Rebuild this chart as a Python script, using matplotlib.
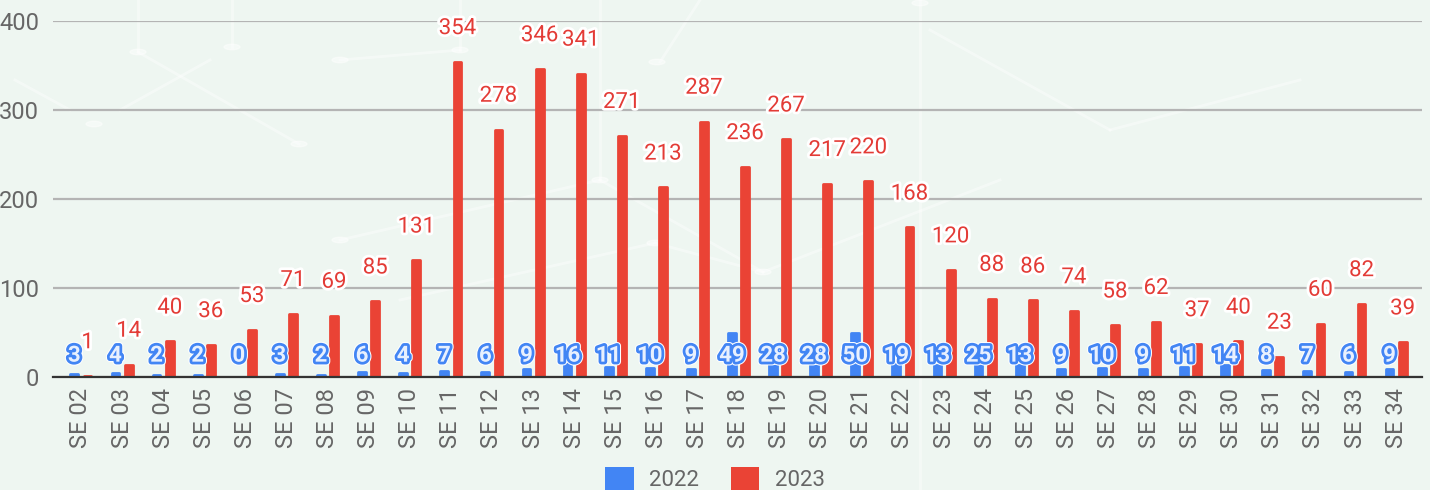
import matplotlib.pyplot as plt
import matplotlib.patheffects as pe
from matplotlib.lines import Line2D
from matplotlib.patches import Patch, Circle
import numpy as np

plt.rcParams['font.family'] = ['Roboto', 'DejaVu Sans']

weeks = ['SE %02d' % w for w in range(2, 35)]
cases_2022 = [3, 4, 2, 2, 0, 3, 2, 6, 4, 7, 6, 9, 16, 11, 10, 9, 49, 28, 28, 50,
              19, 13, 25, 13, 9, 10, 9, 11, 14, 8, 7, 6, 9]
cases_2023 = [1, 14, 40, 36, 53, 71, 69, 85, 131, 354, 278, 346, 341, 271, 213, 287,
              236, 267, 217, 220, 168, 120, 88, 86, 74, 58, 62, 37, 40, 23, 60, 82, 39]

BLUE = '#4285f4'
RED = '#ea4335'
BG = '#eef6f1'

fig = plt.figure(figsize=(14.3, 4.9), dpi=100, facecolor=BG)

# faint network pattern in the background (decoration only)
W, H = 1430, 490
deco_lines = [((138, 0), (138, 52)), ((232, 0), (232, 47)), ((138, 52), (299, 144)),
              ((120, 110), (210, 60)), ((15, 80), (70, 110)), ((460, 0), (460, 50)),
              ((460, 50), (340, 60)), ((920, 0), (920, 490)), ((930, 30), (1110, 130)),
              ((400, 300), (655, 243)), ((655, 243), (763, 272)), ((600, 180), (600, 0)),
              ((600, 180), (763, 272)), ((763, 272), (1000, 180)), ((340, 240), (600, 180)),
              ((700, 0), (660, 62)), ((1110, 130), (1300, 80))]
for (x0, y0), (x1, y1) in deco_lines:
    fig.add_artist(Line2D([x0 / W, x1 / W], [1 - y0 / H, 1 - y1 / H], color='white',
                          lw=2, alpha=0.4, zorder=0))
for cx, cy in [(138, 52), (232, 47), (94, 124), (299, 144), (340, 60), (460, 50),
               (657, 62), (920, 3), (600, 180), (340, 240), (763, 272), (655, 243)]:
    fig.add_artist(Circle((cx / W, 1 - cy / H), 8 / W, color='white', alpha=0.45,
                          transform=fig.transFigure, zorder=0))

ax = fig.add_axes([53 / W, 1 - 377 / H, (1422 - 53) / W, (377 - 21) / H])
ax.set_facecolor('none')

x = np.arange(len(weeks))
off = 0.16
bw = 0.19
ax.bar(x - off, cases_2022, bw, color=BLUE, edgecolor=BLUE, linewidth=2,
       joinstyle='round', zorder=3)
ax.bar(x + off, cases_2023, bw, color=RED, edgecolor=RED, linewidth=2,
       joinstyle='round', zorder=3)

ax.set_ylim(0, 400)
ax.set_xlim(-0.68, len(weeks) - 0.37)
ax.set_yticks([0, 100, 200, 300, 400])
ax.yaxis.grid(True, color='#b4b4b4', linewidth=1.6, zorder=1)
ax.set_axisbelow(True)
for s in ['top', 'right', 'left']:
    ax.spines[s].set_visible(False)
ax.spines['bottom'].set_color('#333333')
ax.spines['bottom'].set_linewidth(1.6)
ax.spines['bottom'].set_zorder(4)

ax.set_xticks(x)
ax.set_xticklabels(weeks, rotation=90, fontsize=17, color='#666666')
ax.tick_params(axis='x', length=0, pad=8)
ax.tick_params(axis='y', length=0, labelsize=17, labelcolor='#666666', pad=10)

halo = [pe.Stroke(linewidth=4, foreground='white'), pe.Normal()]
blue_fx = [pe.Stroke(linewidth=5.5, foreground='white'),
           pe.Stroke(linewidth=4, foreground=BLUE), pe.Normal()]
for i, v in enumerate(cases_2022):
    ax.text(i - off, 24, str(v), ha='center', va='center', fontsize=16,
            color='#e8f0fe', fontweight='bold', path_effects=blue_fx, zorder=6)
for i, v in enumerate(cases_2023):
    ax.annotate(str(v), (i + off, v), xytext=(0, 24), textcoords='offset points',
                ha='center', va='center', fontsize=16, color='#e33b36',
                path_effects=halo, zorder=6, annotation_clip=False)

handles = [Patch(facecolor=BLUE, label='2022'), Patch(facecolor=RED, label='2023')]
fig.legend(handles=handles, loc='center', bbox_to_anchor=(0.5, 1 - 479 / H),
           ncol=2, frameon=False, fontsize=16, labelcolor='#666666',
           handlelength=1.3, handleheight=1.3, columnspacing=1.4, handletextpad=0.7,
           borderpad=0, borderaxespad=0)

fig.savefig('out.png', dpi=100, facecolor=BG)
